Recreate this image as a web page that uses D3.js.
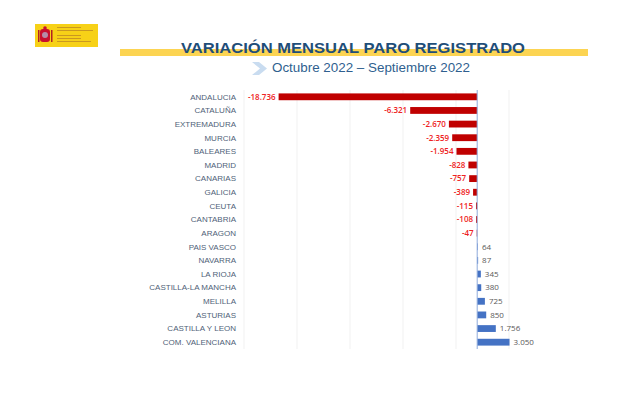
<!DOCTYPE html>
<html>
<head>
<meta charset="utf-8">
<title>Variación mensual paro registrado</title>
<script src="https://cdn.jsdelivr.net/npm/d3@7"></script>
<style>
  body { margin: 0; background: #fff; }
  svg { display: block; }
</style>
</head>
<body>
<script>
// datos: variacion mensual del paro registrado por comunidad
var regiones = ["ANDALUCIA", "CATALUÑA", "EXTREMADURA", "MURCIA", "BALEARES", "MADRID",
  "CANARIAS", "GALICIA", "CEUTA", "CANTABRIA", "ARAGON", "PAIS VASCO", "NAVARRA",
  "LA RIOJA", "CASTILLA-LA MANCHA", "MELILLA", "ASTURIAS", "CASTILLA Y LEON", "COM. VALENCIANA"];
var variacion = [-18736, -6321, -2670, -2359, -1954, -828, -757, -389, -115, -108, -47,
  64, 87, 345, 380, 725, 850, 1756, 3050];
var gridTicks = [-22000, -17000, -12000, -7000, -2000, 3000];

var titulo = "VARIACIÓN MENSUAL PARO REGISTRADO";
var subtitulo = "Octubre 2022 – Septiembre 2022";

var width = 624, height = 403;

var es = d3.formatLocale({decimal: ",", thousands: ".", grouping: [3], currency: ["", " €"], minus: "-"});
var fmt = es.format(",d");

var svg = d3.select("body").append("svg")
  .attr("width", width)
  .attr("height", height);

// logo (rectangulo amarillo con escudo)
var logo = svg.append("g");
logo.append("rect").attr("x", 35).attr("y", 24).attr("width", 63).attr("height", 23).attr("fill", "#f7d117");
logo.append("rect").attr("x", 40).attr("y", 29).attr("width", 10).attr("height", 13).attr("rx", 3).attr("fill", "#c8102e");
logo.append("circle").attr("cx", 45).attr("cy", 35).attr("r", 3).attr("fill", "#b58ca8");
logo.append("circle").attr("cx", 45).attr("cy", 28).attr("r", 1.8).attr("fill", "#c8102e");
logo.append("rect").attr("x", 38).attr("y", 30).attr("width", 1.5).attr("height", 12).attr("fill", "#b22222");
logo.append("rect").attr("x", 51).attr("y", 30).attr("width", 1.5).attr("height", 12).attr("fill", "#b22222");
[27, 30, 35, 38, 41].forEach(function(y, i) {
  logo.append("rect").attr("x", 57).attr("y", y).attr("width", i == 1 ? 36 : (i == 4 ? 34 : 24))
    .attr("height", 0.8).attr("fill", "#9a5a2a").attr("opacity", 0.6);
});

// banda amarilla y titulo
svg.append("rect").attr("x", 120).attr("y", 49).attr("width", 468).attr("height", 7).attr("fill", "#fcd452");
svg.append("text")
  .attr("x", 353).attr("y", 53)
  .attr("text-anchor", "middle")
  .attr("font-family", "Liberation Sans, Arial, sans-serif")
  .attr("font-weight", "bold")
  .attr("font-size", 15.5)
  .attr("fill", "#1f4e79")
  .attr("textLength", 344)
  .attr("lengthAdjust", "spacingAndGlyphs")
  .text(titulo);

// flecha
svg.append("path")
  .attr("d", "M252,62 L259,62 L267,68.5 L259,75 L252,75 L260,68.5 Z")
  .attr("fill", "#c9dcf0");
svg.append("text")
  .attr("x", 272).attr("y", 72)
  .attr("font-family", "Liberation Sans, Arial, sans-serif")
  .attr("font-size", 13.5)
  .attr("fill", "#2f5f8f")
  .attr("textLength", 198)
  .attr("lengthAdjust", "spacingAndGlyphs")
  .text(subtitulo);

// escalas
var x = d3.scaleLinear().domain([-22000, 3000]).range([244, 509]);
var y = d3.scaleBand().domain(regiones).range([90, 349]).paddingInner(0.5).paddingOuter(0.25);

// lineas de cuadricula
svg.append("g").selectAll("line")
  .data(gridTicks)
  .enter().append("line")
  .attr("x1", function(d) { return x(d); })
  .attr("x2", function(d) { return x(d); })
  .attr("y1", 90).attr("y2", 349)
  .attr("stroke", "#f1f1f1")
  .attr("stroke-width", 1);

// barras
svg.append("g").selectAll("rect")
  .data(variacion)
  .enter().append("rect")
  .attr("x", function(d) { return Math.min(x(d), x(0)); })
  .attr("y", function(d, i) { return y(regiones[i]); })
  .attr("width", function(d) { return Math.abs(x(d) - x(0)); })
  .attr("height", y.bandwidth())
  .attr("fill", function(d) { return d < 0 ? "#c00000" : "#4472c4"; });

// eje en cero
svg.append("line")
  .attr("x1", x(0)).attr("x2", x(0))
  .attr("y1", 90).attr("y2", 349)
  .attr("stroke", "#8eaadb")
  .attr("stroke-width", 1);

// etiquetas de categoria
svg.append("g").selectAll("text")
  .data(regiones)
  .enter().append("text")
  .attr("x", 236)
  .attr("y", function(d) { return y(d) + y.bandwidth() / 2; })
  .attr("dy", "0.35em")
  .attr("text-anchor", "end")
  .attr("font-family", "Liberation Sans, Arial, sans-serif")
  .attr("font-size", 8)
  .attr("fill", "#4f5f78")
  .text(function(d) { return d; });

// etiquetas de valor
svg.append("g").selectAll("text")
  .data(variacion)
  .enter().append("text")
  .attr("x", function(d) { return d < 0 ? x(d) - 3 : x(d) + 4; })
  .attr("y", function(d, i) { return y(regiones[i]) + y.bandwidth() / 2; })
  .attr("dy", "0.35em")
  .attr("text-anchor", function(d) { return d < 0 ? "end" : "start"; })
  .attr("font-family", "Open Sans, Liberation Sans, sans-serif")
  .attr("font-size", 8)
  .attr("font-weight", function(d) { return d < 0 ? "600" : "normal"; })
  .attr("fill", function(d) { return d < 0 ? "#ee2222" : "#595959"; })
  .text(function(d) { return fmt(d); });
</script>
</body>
</html>
